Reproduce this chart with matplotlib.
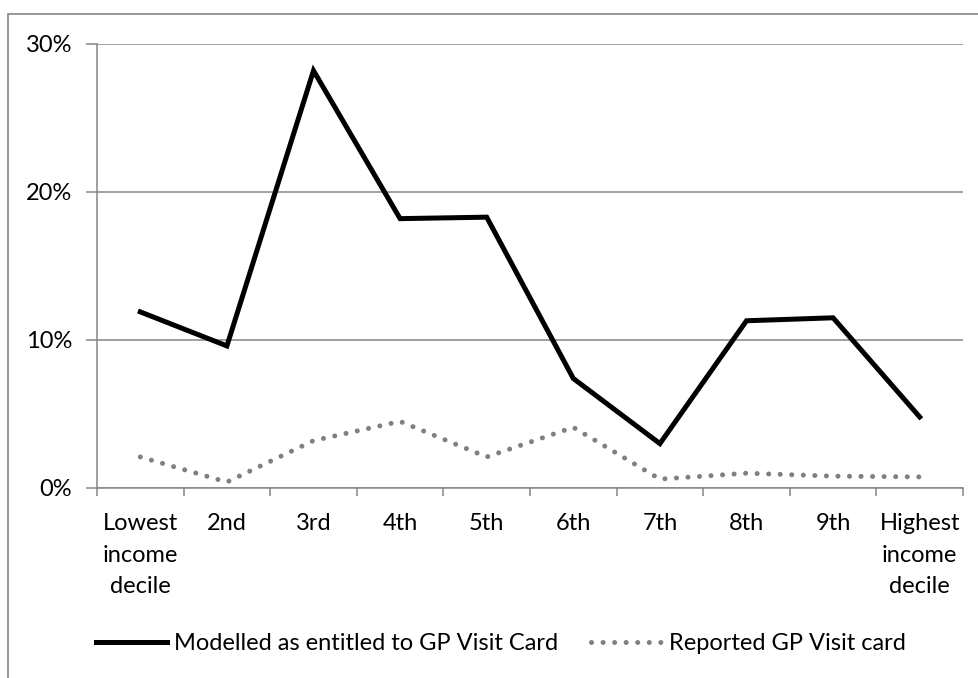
import numpy as np
import matplotlib.pyplot as plt
from matplotlib.patches import Rectangle

plt.rcParams['font.family'] = ['Lato', 'DejaVu Sans']

deciles = ["Lowest\nincome\ndecile", "2nd", "3rd", "4th", "5th",
           "6th", "7th", "8th", "9th", "Highest\nincome\ndecile"]
modelled = [11.9, 9.6, 28.2, 18.2, 18.3, 7.4, 3.0, 11.3, 11.5, 4.8]
reported = [2.1, 0.4, 3.2, 4.5, 2.1, 4.1, 0.6, 1.0, 0.8, 0.75]
y_ticks = [0, 10, 20, 30]

grey = "#868686"


def main() -> None:
    fig = plt.figure(figsize=(9.79, 6.78), dpi=100)
    W, H = 979, 678
    ax = fig.add_axes([97 / W, (H - 488) / H, 866 / W, 444 / H])

    # outer chart frame
    fig.patches.append(Rectangle((8 / W, -0.1), 1.1, 1.1 - 14 / H, transform=fig.transFigure,
                                 fill=False, edgecolor=grey, linewidth=1.2))

    x = np.arange(len(deciles))
    ax.plot(x, modelled, color="black", linewidth=3.6, solid_joinstyle="miter",
            label="Modelled as entitled to GP Visit Card", zorder=3)
    ax.plot(x, reported, color="#808080", linewidth=3.6, linestyle=(0, (0.01, 2.3)),
            dash_capstyle="round", label="Reported GP Visit card", zorder=3)

    ax.set_xlim(-0.5, len(deciles) - 0.5)
    ax.set_ylim(0, 30)
    ax.set_yticks(y_ticks)
    ax.set_yticklabels([f"{v}%" for v in y_ticks])
    ax.yaxis.grid(True, color=grey, linewidth=1.1)
    ax.set_axisbelow(True)

    ax.set_xticks(np.arange(-0.5, len(deciles)))
    ax.set_xticklabels([])
    ax.set_xticks(x, minor=True)
    ax.set_xticklabels(deciles, minor=True, fontsize=17, linespacing=1.62)
    ax.tick_params(axis="x", which="major", length=6, width=1.1, color=grey)
    ax.tick_params(axis="x", which="minor", length=0, pad=18)
    ax.tick_params(axis="y", length=8, width=1.1, color=grey, labelsize=17, pad=10)

    for side in ("top", "right"):
        ax.spines[side].set_visible(False)
    for side in ("left", "bottom"):
        ax.spines[side].set_color(grey)
        ax.spines[side].set_linewidth(1.1)

    fig.legend(loc="center", bbox_to_anchor=(0.512, 1 - 644 / H), ncol=2, frameon=False,
               fontsize=17, handlelength=3.0, handletextpad=0.3, columnspacing=1.4)

    fig.savefig("out.png", dpi=100)


if __name__ == "__main__":
    main()
